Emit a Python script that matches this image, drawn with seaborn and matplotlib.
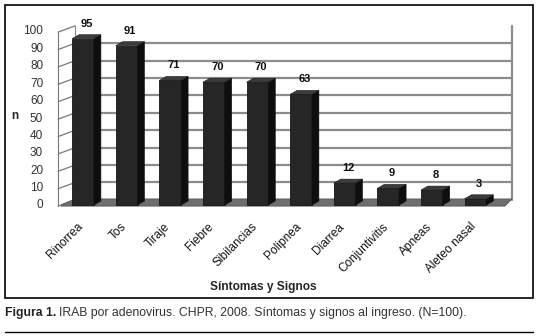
import matplotlib
matplotlib.use("Agg")
import matplotlib.pyplot as plt
import seaborn as sns
import pandas as pd
from matplotlib.patches import Rectangle, Polygon
from matplotlib.lines import Line2D
from matplotlib.transforms import ScaledTranslation

categories = ["Rinorrea", "Tos", "Tiraje", "Fiebre", "Sibilancias", "Polipnea",
              "Diarrea", "Conjuntivitis", "Apneas", "Aleteo nasal"]
values = [95, 91, 71, 70, 70, 63, 12, 9, 8, 3]
yticks = [0, 10, 20, 30, 40, 50, 60, 70, 80, 90, 100]

df = pd.DataFrame({"cat": categories, "n": values})

sns.set_theme(style="white")
plt.rcParams["font.family"] = ["Liberation Sans", "DejaVu Sans"]

W, H = 538, 336
fig = plt.figure(figsize=(W / 100, H / 100), dpi=100)

# layout in pixels
ymin = -2.5
top_px, zero_px = 30, 204
ppu = (zero_px - top_px) / 100.0
bottom_px = zero_px - ymin * ppu
cat_px = 43.6
left_px = 83 - cat_px / 2
right_px = 512
xmax = -0.5 + (right_px - left_px) / cat_px
ax = fig.add_axes([left_px / W, 1 - bottom_px / H, (right_px - left_px) / W,
                   (bottom_px - top_px) / H])
ax.set_ylim(ymin, 100)
ax.set_xlim(-0.5, xmax)

dx = 7 / cat_px      # depth offset in x (data units)
dy = 4 / ppu         # depth offset in y (data units)
back_left = -0.5 + 14 / cat_px

# floor
floor = Polygon([(-0.5 - 3 / cat_px, -1.2), (xmax - 7 / cat_px, -1.2),
                 (xmax, 0.5 + 2.4), (back_left, 0.5 + 2.4)],
                closed=True, fc="#6e6e6e", ec="#5a5a5a", lw=0.6, zorder=0.5)
ax.add_patch(floor)

# back-wall gridlines
for t in yticks[1:]:
    ax.plot([back_left, xmax], [t + 2.4, t + 2.4], color="#8c8c8c", lw=1.6,
            zorder=0.4, solid_capstyle="butt")
# left wall slanted tick lines
for t in yticks:
    ax.plot([-0.5 - 3 / cat_px, back_left], [t - 1.2, t + 2.4], color="#777777",
            lw=0.9, zorder=0.4, clip_on=False)
ax.plot([back_left, back_left], [2.4, 102.4], color="#888888", lw=0.8, zorder=0.4,
        clip_on=False)
ax.plot([-0.5 - 3 / cat_px, -0.5 - 3 / cat_px], [-1.2, 98.8], color="#777777", lw=0.8,
        zorder=0.4, clip_on=False)
ax.plot([xmax, xmax], [2.4, 100 + 2.4], color="#8c8c8c", lw=1.6, zorder=0.4,
        clip_on=False)

sns.barplot(data=df, x="cat", y="n", color="#242424", width=0.5,
            edgecolor="#151515", linewidth=0.6, ax=ax, zorder=2, saturation=1)
ax.set_xlim(-0.5, xmax)
ax.set_ylim(ymin, 100)

for p in list(ax.patches):
    if not isinstance(p, Rectangle):
        continue
    x0, w, h = p.get_x(), p.get_width(), p.get_height()
    y0 = -0.6
    p.set_y(y0)
    p.set_height(h - y0)
    p.set_facecolor("#262626")
    side = Polygon([(x0 + w, y0), (x0 + w + dx, y0 + dy), (x0 + w + dx, h + dy),
                    (x0 + w, h)], closed=True, fc="#0e0e0e", ec="#0e0e0e", lw=0.4,
                   zorder=2.1)
    topf = Polygon([(x0, h), (x0 + w, h), (x0 + w + dx, h + dy), (x0 + dx, h + dy)],
                   closed=True, fc="#3c3c3c", ec="#1a1a1a", lw=0.4, zorder=2.1)
    ax.add_patch(side)
    ax.add_patch(topf)

for i, v in enumerate(values):
    ax.text(i + 0.08, v + 8.6, str(v), ha="center", va="center", fontsize=8,
            fontweight="bold", color="#111111", clip_on=False)

ax.set_yticks(yticks)
ax.set_yticklabels([str(t) for t in yticks], fontsize=8.5, color="#333333")
ax.tick_params(axis="y", length=0, pad=13)
ax.set_xticks(range(len(categories)))
ax.set_xticklabels(categories, rotation=45, ha="right", rotation_mode="anchor",
                   fontsize=8.6, color="#111111")
ax.tick_params(axis="x", length=0, pad=9)
off = ScaledTranslation(-6 / 100, 0, fig.dpi_scale_trans)
for lab in ax.get_xticklabels():
    lab.set_transform(lab.get_transform() + off)
ax.set_xlabel("")
ax.set_ylabel("")
for s in ["top", "bottom", "left", "right"]:
    ax.spines[s].set_visible(False)

fig.text(15 / W, 1 - 116 / H, "n", fontsize=8.5, fontweight="bold",
         ha="center", va="center")
fig.text(263 / W, 1 - 287 / H, "Síntomas y Signos", fontsize=8.6,
         fontweight="bold", ha="center", va="center")

fig.patches.append(Rectangle((5 / W, 1 - 298 / H), (533 - 5) / W, (298 - 5) / H,
                             transform=fig.transFigure, fill=False, ec="black", lw=1.2))
fig.lines.append(Line2D([5 / W, 533 / W], [1 - 332 / H] * 2,
                        transform=fig.transFigure, color="black", lw=1.0))

t1 = fig.text(5 / W, 1 - 313 / H, "Figura 1.", fontsize=8.8, fontweight="bold",
              ha="left", va="center", color="#222222")
fig.canvas.draw()
bb = t1.get_window_extent().transformed(fig.transFigure.inverted())
fig.text(bb.x1 + 0.005, 1 - 313 / H,
         "IRAB por adenovirus. CHPR, 2008. Síntomas y signos al ingreso. (N=100).",
         fontsize=8.8, ha="left", va="center", color="#333333")

fig.savefig("out.png", dpi=100)
